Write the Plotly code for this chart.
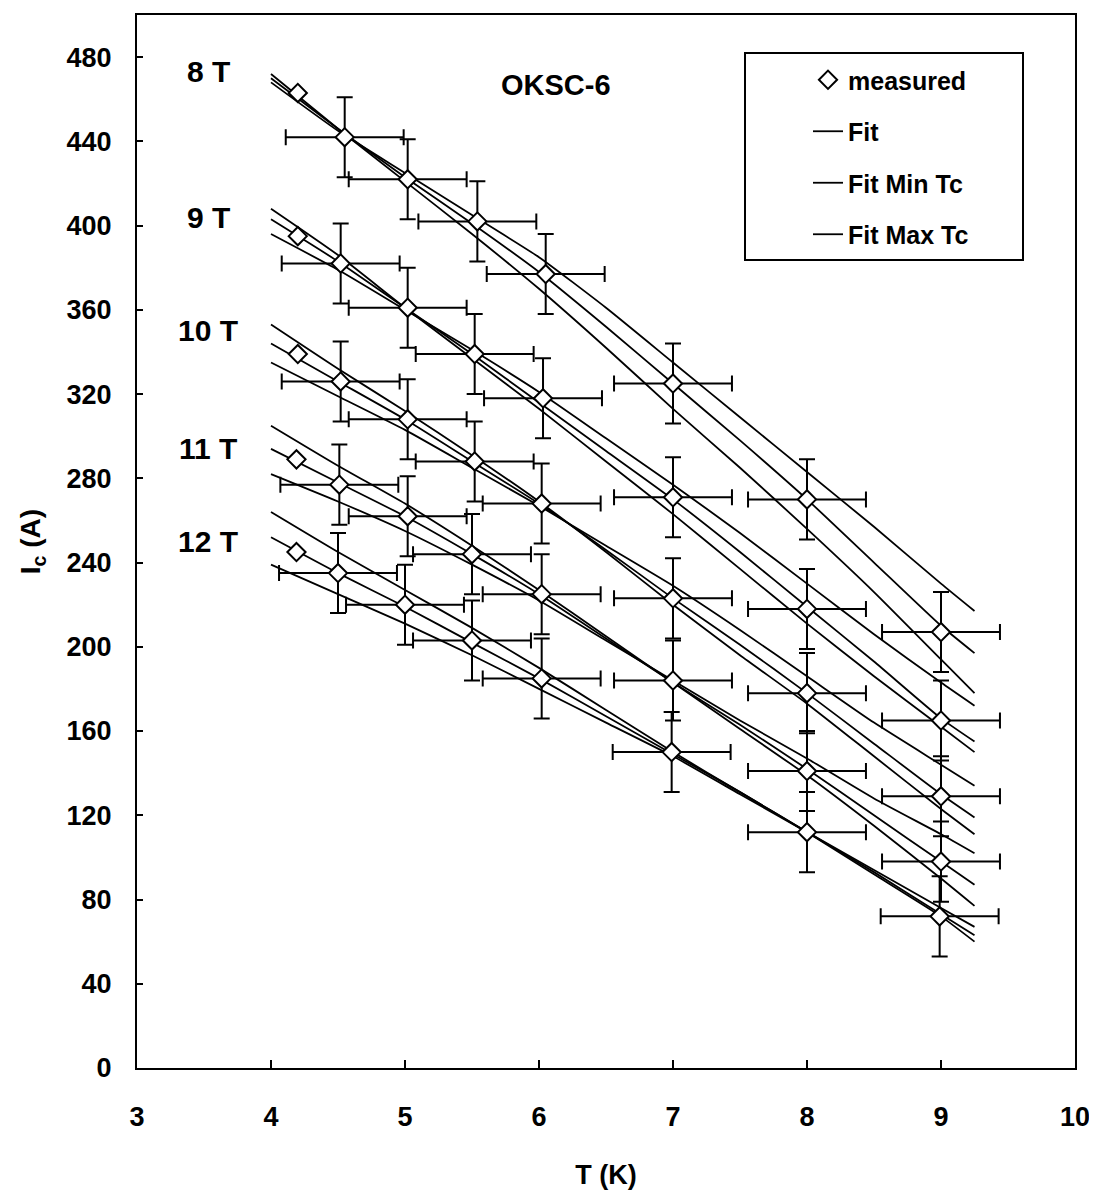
import plotly.graph_objects as go

# ---- data ----
fields = ["8 T", "9 T", "10 T", "11 T", "12 T"]

meas_T = {
    "8 T":  [4.20, 4.55, 5.02, 5.54, 6.05, 7.00, 8.00, 9.00],
    "9 T":  [4.20, 4.52, 5.02, 5.52, 6.03, 7.00, 8.00, 9.00],
    "10 T": [4.20, 4.52, 5.02, 5.52, 6.02, 7.00, 8.00, 9.00],
    "11 T": [4.19, 4.51, 5.02, 5.50, 6.02, 7.00, 8.00, 9.00],
    "12 T": [4.19, 4.50, 5.00, 5.50, 6.02, 6.99, 8.00, 8.99],
}
meas_I = {
    "8 T":  [463, 442, 422, 402, 377, 325, 270, 207],
    "9 T":  [395, 382, 361, 339, 318, 271, 218, 165],
    "10 T": [339, 326, 308, 288, 268, 223, 178, 129],
    "11 T": [289, 277, 262, 244, 225, 184, 141, 98],
    "12 T": [245, 235, 220, 203, 185, 150, 112, 72],
}
err_T = 0.44   # horizontal error bar half-width (K)
err_I = 19     # vertical error bar half-height (A)

fit_T = [4.0, 4.5, 5.0, 5.5, 6.0, 6.5, 7.0, 7.5, 8.0, 8.5, 9.0, 9.25]
fit_I = {
    "8 T":  [470, 446, 423, 401, 378, 352, 325, 298, 270, 240, 210, 197],
    "9 T":  [403, 383, 361, 339, 316, 293, 270, 245, 219, 193, 166, 155],
    "10 T": [344, 326, 308, 288, 268, 246, 223, 201, 178, 154, 130, 119],
    "11 T": [294, 278, 262, 244, 225, 204, 183, 163, 142, 120, 98, 87],
    "12 T": [252, 235, 219, 202, 185, 167, 149, 131, 112, 93, 73, 63],
}
fit_min_I = {
    "8 T":  [472, 446, 421, 396, 370, 342, 313, 285, 256, 226, 194, 178],
    "9 T":  [408, 386, 361, 337, 313, 288, 263, 237, 211, 186, 162, 150],
    "10 T": [353, 332, 312, 291, 269, 245, 220, 196, 173, 148, 123, 111],
    "11 T": [305, 286, 268, 248, 227, 205, 183, 161, 139, 115, 90, 77],
    "12 T": [264, 245, 227, 209, 190, 170, 150, 131, 112, 92, 72, 60],
}
fit_max_I = {
    "8 T":  [468, 445, 425, 405, 385, 361, 335, 309, 283, 257, 230, 217],
    "9 T":  [396, 379, 360, 341, 321, 299, 277, 254, 230, 206, 183, 172],
    "10 T": [335, 319, 303, 285, 267, 248, 229, 208, 186, 164, 144, 134],
    "11 T": [282, 269, 255, 239, 222, 203, 184, 165, 147, 128, 111, 102],
    "12 T": [239, 225, 211, 196, 180, 164, 148, 130, 112, 94, 76, 67],
}
label_pos = {"8 T": 473, "9 T": 404, "10 T": 350, "11 T": 294, "12 T": 250}

x_ticks = [3, 4, 5, 6, 7, 8, 9, 10]
y_ticks = list(range(0, 481, 40))

FONT = "Liberation Sans, Arial, sans-serif"

# the page body has an 8px margin; plot area spans x 137..1075, y 15..1068 in the window
W, H = 1089, 1190
ML, MR, MT, MB = 129, 22, 7, 130
PW = W - ML - MR
PH = H - MT - MB


def px_x(px):
    return (px - 8 - ML) / PW


def px_y(py):
    return 1 - (py - 8 - MT) / PH


fig = go.Figure()

line_style = dict(color="black", width=1.8, shape="spline", smoothing=0.5)
for series, name, rank in [(fit_I, "Fit", 2), (fit_min_I, "Fit Min Tc", 3),
                           (fit_max_I, "Fit Max Tc", 4)]:
    for i, f in enumerate(fields):
        fig.add_trace(go.Scatter(
            x=fit_T, y=series[f], mode="lines", line=line_style,
            name=name, legendgroup=name, legendrank=rank, showlegend=(i == 0)))

marker_style = dict(symbol="diamond", size=14, color="white",
                    line=dict(color="black", width=2))
for i, f in enumerate(fields):
    T = meas_T[f]
    I = meas_I[f]
    fig.add_trace(go.Scatter(
        x=T[1:], y=I[1:], mode="markers", marker=marker_style,
        error_x=dict(type="constant", value=err_T, color="black", thickness=2, width=8),
        error_y=dict(type="constant", value=err_I, color="black", thickness=2, width=8),
        name="measured", legendgroup="measured", legendrank=1, showlegend=False))
    # the 4.2 K point carries no error bars
    fig.add_trace(go.Scatter(
        x=T[:1], y=I[:1], mode="markers", marker=marker_style,
        name="measured", legendgroup="measured", legendrank=1, showlegend=(i == 0)))

annotations = []
for f in fields:
    annotations.append(dict(x=3.53, y=label_pos[f], xref="x", yref="y", text=f,
                            showarrow=False,
                            font=dict(family=FONT, size=30, color="black", weight="bold")))
annotations.append(dict(x=6.13, y=467, xref="x", yref="y", text="OKSC-6", showarrow=False,
                        font=dict(family=FONT, size=29, color="black", weight="bold")))

fig.update_layout(
    width=W, height=H,
    margin=dict(l=ML, r=MR, t=MT, b=MB, autoexpand=False),
    paper_bgcolor="white", plot_bgcolor="white",
    font=dict(family=FONT, color="black"),
    annotations=annotations,
    showlegend=True,
    legend=dict(x=px_x(808), y=px_y(57), xanchor="left", yanchor="top",
                bgcolor="rgba(0,0,0,0)", borderwidth=0,
                traceorder="grouped", tracegroupgap=16,
                font=dict(family=FONT, size=25, color="black", weight="bold")),
    shapes=[dict(type="rect", xref="paper", yref="paper",
                 x0=px_x(745), x1=px_x(1023), y0=px_y(260), y1=px_y(53),
                 line=dict(color="black", width=2), fillcolor="rgba(0,0,0,0)")],
)

fig.update_xaxes(
    range=[3, 10], tickvals=x_ticks, ticks="inside", ticklen=8, tickwidth=1.5,
    tickcolor="black", showgrid=False, zeroline=False,
    showline=True, linecolor="black", linewidth=2, mirror=True,
    ticklabelstandoff=24, automargin=False,
    tickfont=dict(family=FONT, size=27, color="black", weight="bold"),
    title=dict(text="T (K)", standoff=34,
               font=dict(family=FONT, size=27, color="black", weight="bold")))
fig.update_yaxes(
    range=[0, 500], tickvals=y_ticks, ticks="inside", ticklen=6, tickwidth=1.5,
    tickcolor="black", showgrid=False, zeroline=False,
    showline=True, linecolor="black", linewidth=2, mirror=True,
    ticklabelstandoff=18, automargin=False,
    tickfont=dict(family=FONT, size=27, color="black", weight="bold"),
    title=dict(text="I<sub>c</sub> (A)", standoff=18,
               font=dict(family=FONT, size=28, color="black", weight="bold")))

fig.write_html("out.html")
